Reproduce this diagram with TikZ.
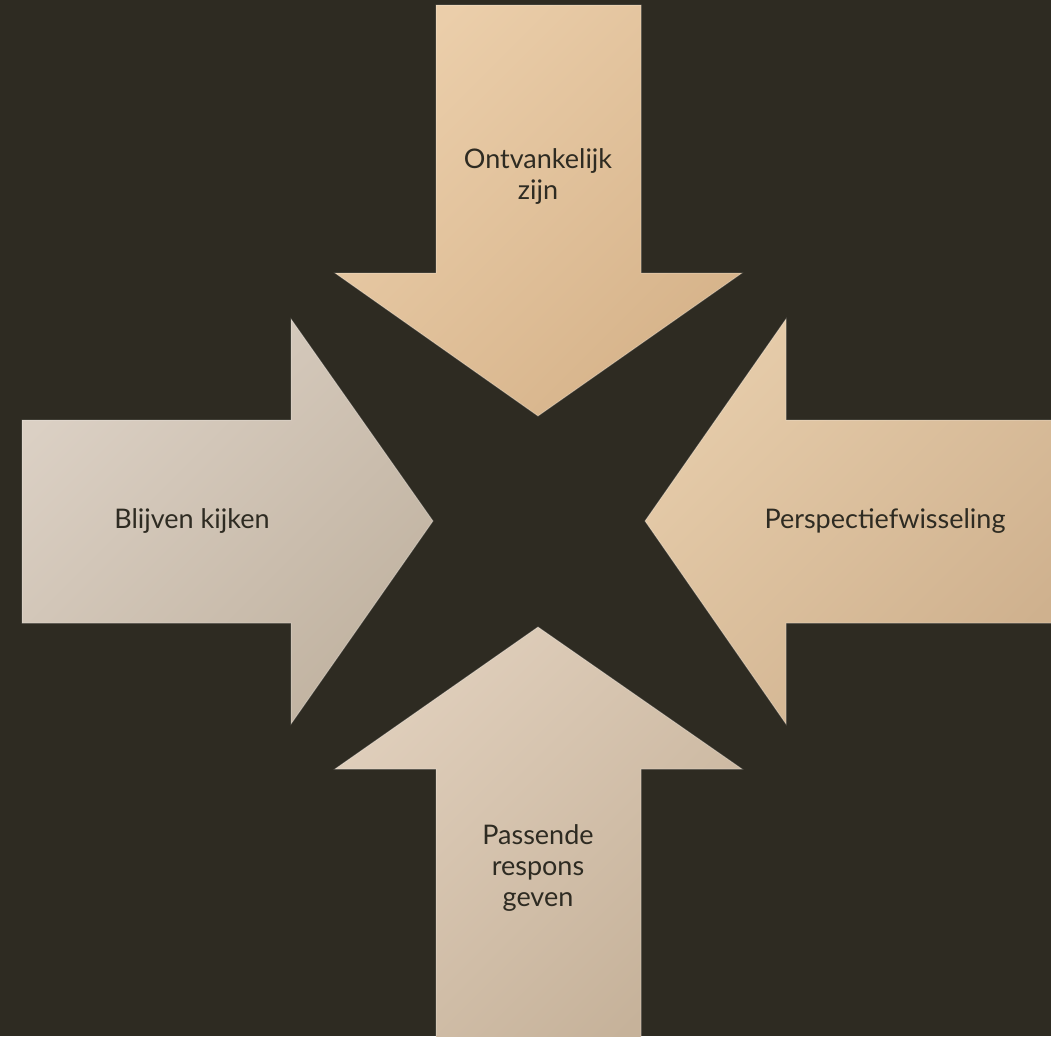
\documentclass[tikz,border=0pt]{standalone}
\usepackage{fontspec}
\setmainfont{Lato}
\definecolor{bg}{HTML}{2E2B22}
\definecolor{txt}{HTML}{2E2B22}
\definecolor{topA}{HTML}{EBCEAA}
\definecolor{topB}{HTML}{D6B38A}
\definecolor{leftA}{HTML}{DBD0C4}
\definecolor{leftB}{HTML}{C1B3A1}
\definecolor{rightA}{HTML}{E6CCAA}
\definecolor{rightB}{HTML}{CFB18E}
\definecolor{botA}{HTML}{E0CFBC}
\definecolor{botB}{HTML}{C6B29A}
\tikzset{
  arrowshape/.style={draw=white, draw opacity=0.25, line width=1pt},
  label/.style={text=txt, align=center, font=\fontsize{27}{31}\selectfont, inner sep=0pt}
}
\begin{document}
\begin{tikzpicture}[x=1pt,y=-1pt]
\fill[bg] (0,0) rectangle (1051,1036);
\useasboundingbox (0,0) rectangle (1051,1036);
% top arrow
\shade[arrowshape, top color=topA, bottom color=topB, shading angle=45]
  (436,5) -- (641,5) -- (641,273) -- (742,273) -- (538,416) -- (335,273) -- (436,273) -- cycle;
% left arrow
\shade[arrowshape, top color=leftA, bottom color=leftB, shading angle=45]
  (22,420) -- (291,420) -- (291,319) -- (433,521) -- (291,724) -- (291,623) -- (22,623) -- cycle;
% right arrow
\shade[arrowshape, top color=rightA, bottom color=rightB, shading angle=45]
  (1053,420) -- (786,420) -- (786,319) -- (645,521) -- (786,724) -- (786,623) -- (1053,623) -- cycle;
% bottom arrow
\shade[arrowshape, top color=botA, bottom color=botB, shading angle=45]
  (436,1038) -- (436,769) -- (335,769) -- (538,627) -- (742,769) -- (641,769) -- (641,1038) -- cycle;
\node[label] (ontv) at (538,177) {Ontvankelijk\\zijn};
\node[label] (blijf) at (192,521) {Blijven kijken};
\node[label] (persp) at (885,521) {Perspectiefwisseling};
\node[label] (pass) at (538,868) {Passende\\respons\\geven};
\end{tikzpicture}
\end{document}
